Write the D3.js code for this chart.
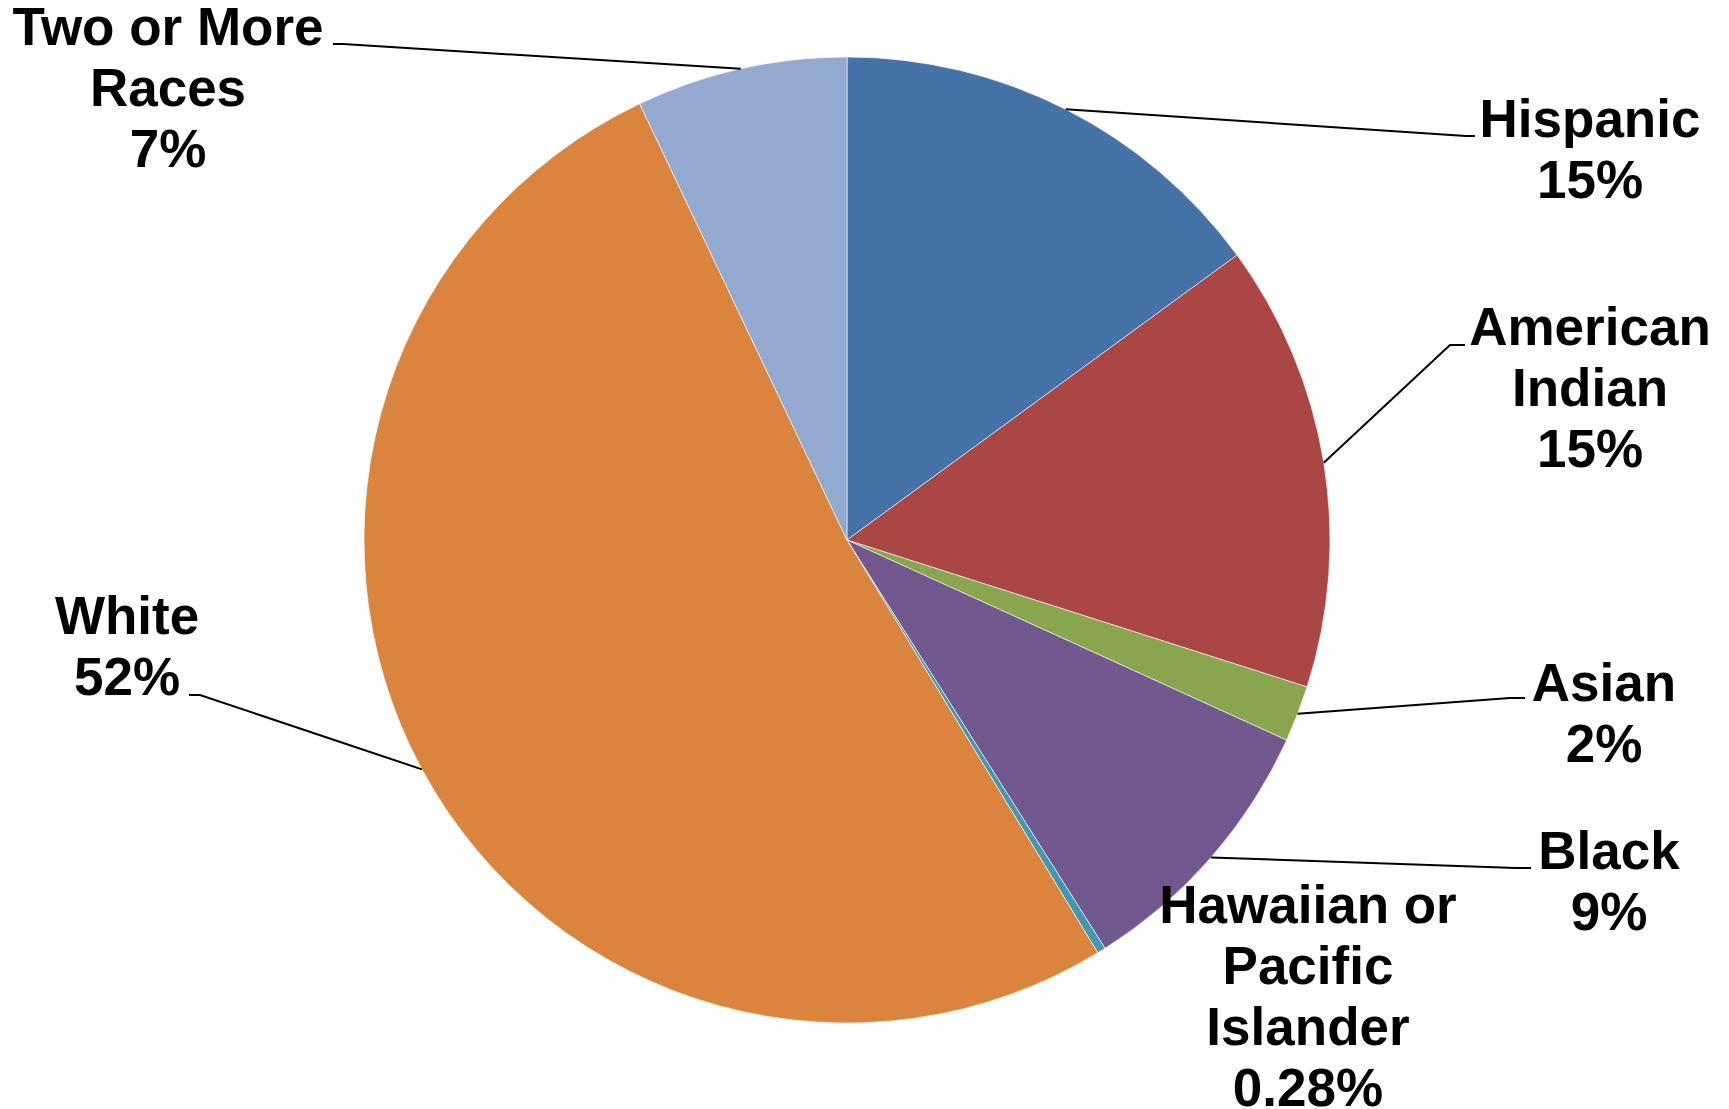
<!DOCTYPE html>
<html>
<head>
<meta charset="utf-8">
<script src="https://cdn.jsdelivr.net/npm/d3@7"></script>
<style>
  html, body { margin: 0; padding: 0; background: #fff; overflow: hidden; }
  #chart text { font-family: "Liberation Sans", Arial, sans-serif; font-weight: bold; fill: #000; }
</style>
</head>
<body>
<div id="chart"></div>
<script>
const categories = ["Hispanic", "American Indian", "Asian", "Black", "Hawaiian or Pacific Islander", "White", "Two or More Races"];
const shares = [14.96, 14.96, 1.88, 9.23, 0.28, 51.63, 7.06];
const labelLines = [
  ["Hispanic"],
  ["American", "Indian"],
  ["Asian"],
  ["Black"],
  ["Hawaiian or", "Pacific", "Islander"],
  ["White"],
  ["Two or More", "Races"]
];
const colors = ["#4572A7", "#AA4643", "#89A54E", "#71588F", "#4198AF", "#DB843D", "#93A9CF"];

// label placement: text centre x, first baseline y, leader end (ex, ey), elbow x (null = no leader)
const labelLayout = [
  {x: 1590, y: 137, ex: 1475, ey: 136, bx: 1466},
  {x: 1590, y: 345, ex: 1465, ey: 345, bx: 1450},
  {x: 1604, y: 701, ex: 1525, ey: 698, bx: 1510},
  {x: 1609, y: 869, ex: 1531, ey: 868, bx: 1516},
  {x: 1308, y: 923, ex: null},
  {x: 127, y: 634, ex: 189, ey: 695, bx: 200},
  {x: 168, y: 45, ex: 333, ey: 44, bx: 343}
];

const W = 1729, H = 1109;
const cx = 847, cy = 540, radius = 483;
const lineH = 61;

const fmt = v => v < 1 ? v.toFixed(2) + "%" : Math.round(v) + "%";

const svg = d3.select("#chart").append("svg")
  .attr("width", W)
  .attr("height", H);

const g = svg.append("g")
  .attr("transform", "translate(" + cx + "," + cy + ")");

const data = categories.map((c, i) => ({name: c, value: shares[i], i: i}));

const pie = d3.pie()
  .sort(null)
  .value(d => d.value);

const arc = d3.arc()
  .innerRadius(0)
  .outerRadius(radius);

const edge = d3.arc()
  .innerRadius(radius)
  .outerRadius(radius);

const arcs = pie(data);

g.selectAll("path.slice")
  .data(arcs)
  .enter().append("path")
  .attr("class", "slice")
  .attr("d", arc)
  .attr("fill", d => colors[d.data.i])
  .attr("stroke", "#fff")
  .attr("stroke-width", 0.6);

// leader lines
const leaders = svg.append("g");
arcs.forEach(d => {
  const L = labelLayout[d.data.i];
  if (L.ex === null) return;
  const p = edge.centroid(d);
  const pts = [[cx + p[0], cy + p[1]], [L.bx, L.ey], [L.ex, L.ey]];
  leaders.append("path")
    .attr("d", d3.line()(pts))
    .attr("fill", "none")
    .attr("stroke", "#000")
    .attr("stroke-width", 2);
});

// labels
const labels = svg.append("g");
arcs.forEach(d => {
  const L = labelLayout[d.data.i];
  const lines = labelLines[d.data.i].concat([fmt(d.data.value)]);
  const t = labels.append("text")
    .attr("text-anchor", "middle")
    .style("font-size", "53px");
  lines.forEach((s, k) => {
    t.append("tspan")
      .attr("x", L.x)
      .attr("y", L.y + k * lineH)
      .text(s);
  });
});
</script>
</body>
</html>
